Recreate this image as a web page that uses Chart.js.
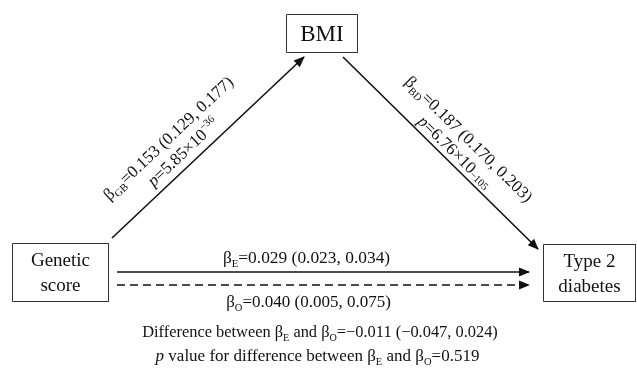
<!DOCTYPE html>
<html>
<head>
<meta charset="utf-8">
<script src="https://cdn.jsdelivr.net/npm/chart.js@4.4.1/dist/chart.umd.min.js"></script>
<style>
  html, body { margin: 0; padding: 0; background: #fff; }
</style>
</head>
<body>
<canvas id="diagram" width="637" height="373"></canvas>
<script>
// Path diagram: genetic score -> BMI -> type 2 diabetes
const nodeLines = [['BMI'], ['Genetic', 'score'], ['Type 2', 'diabetes']];

// Path estimates (GB, BD, E = expected, O = observed)
const pathNames = ['GB', 'BD', 'E', 'O'];
const betas = [0.153, 0.187, 0.029, 0.040];
const ciLow = [0.129, 0.170, 0.023, 0.005];
const ciHigh = [0.177, 0.203, 0.034, 0.075];
const pMantissa = ['5.85', '6.76'];
const pExponent = ['−36', '−105'];

// Difference between expected and observed
const diffValue = -0.011;
const diffLow = -0.047;
const diffHigh = 0.024;
const diffP = 0.519;

// Diagram layout in diagram units (same as pixels here)
const boxCorners = [[286.5, 14.5, 357.5, 52.5], [12.5, 243.5, 108.5, 301.5], [543.5, 244.5, 635.5, 301.5]];
const edgeStart = [[112, 238], [343, 57], [117, 272], [117, 285]];
const edgeEnd = [[304, 57], [538, 249], [529, 272], [529, 285]];
const edgeDashed = [false, false, false, true];

const SERIF = '"Liberation Serif", "Times New Roman", serif';

function fmt(v) {
    const s = Math.abs(v).toFixed(3);
    return v < 0 ? '−' + s : s;
}

// draw text made of runs: {t, sub, sup, low, it}
function drawRich(ctx, parts, x, y, size, align) {
    const fontFor = p => (p.it ? 'italic ' : '') + ((p.sub || p.sup || p.low) ? size * 0.62 : size) + 'px ' + SERIF;
    let w = 0;
    parts.forEach(p => { ctx.font = fontFor(p); w += ctx.measureText(p.t).width; });
    let cx = align === 'center' ? x - w / 2 : x;
    ctx.textAlign = 'left';
    ctx.textBaseline = 'alphabetic';
    parts.forEach(p => {
        ctx.font = fontFor(p);
        const dy = p.sub ? size * 0.22 : (p.sup ? -size * 0.42 : (p.low ? size * 0.08 : 0));
        ctx.fillText(p.t, cx, y + dy);
        cx += ctx.measureText(p.t).width;
    });
}

function betaLine(i) {
    return [
        { t: 'β' }, { t: pathNames[i], sub: true },
        { t: '=' + fmt(betas[i]) + ' (' + fmt(ciLow[i]) + ', ' + fmt(ciHigh[i]) + ')' }
    ];
}

function pLine(i, lowExp) {
    const exp = lowExp ? { t: pExponent[i], low: true } : { t: pExponent[i], sup: true };
    return [{ t: 'p', it: true }, { t: '=' + pMantissa[i] + '×10' }, exp];
}

// datasets: boxes then edges
const datasets = [];
boxCorners.forEach(b => {
    datasets.push({
        data: [{ x: b[0], y: b[1] }, { x: b[2], y: b[1] }, { x: b[2], y: b[3] }, { x: b[0], y: b[3] }, { x: b[0], y: b[1] }],
        showLine: true,
        borderColor: '#333',
        borderWidth: 1,
        pointRadius: 0,
        fill: false
    });
});
edgeStart.forEach((s, i) => {
    datasets.push({
        data: [{ x: s[0], y: s[1] }, { x: edgeEnd[i][0], y: edgeEnd[i][1] }],
        showLine: true,
        borderColor: '#111',
        borderWidth: 1.6,
        borderDash: edgeDashed[i] ? [8, 5] : [],
        pointRadius: 0,
        fill: false,
        arrow: true
    });
});

const diagramPlugin = {
    id: 'diagram',
    afterDatasetsDraw(chart) {
        const ctx = chart.ctx;
        const xs = chart.scales.x, ys = chart.scales.y;
        const px = (x, y) => [xs.getPixelForValue(x), ys.getPixelForValue(y)];
        ctx.save();
        ctx.fillStyle = '#111';

        // arrowheads
        chart.data.datasets.forEach((ds, di) => {
            if (!ds.arrow) return;
            const pts = chart.getDatasetMeta(di).data;
            const a = pts[pts.length - 2], b = pts[pts.length - 1];
            const ang = Math.atan2(b.y - a.y, b.x - a.x);
            ctx.save();
            ctx.translate(b.x, b.y);
            ctx.rotate(ang);
            ctx.beginPath();
            ctx.moveTo(1, 0);
            ctx.lineTo(-10, -4.5);
            ctx.lineTo(-10, 4.5);
            ctx.closePath();
            ctx.fill();
            ctx.restore();
        });

        // node labels
        const nodeSizes = [23, 19, 19];
        boxCorners.forEach((b, i) => {
            const [cx, cy] = px((b[0] + b[2]) / 2, (b[1] + b[3]) / 2);
            const n = nodeLines[i].length;
            const lh = nodeSizes[i] * 1.3;
            nodeLines[i].forEach((t, k) => {
                drawRich(ctx, [{ t: t }], cx, cy + (k - (n - 1) / 2) * lh + nodeSizes[i] * 0.33, nodeSizes[i], 'center');
            });
        });

        // rotated labels along the BMI paths
        const rotLabels = [
            { edge: 0, at: [168, 138], parts: betaLine(0) },
            { edge: 0, at: [183, 152], parts: pLine(0, false) },
            { edge: 1, at: [469, 139], parts: betaLine(1) },
            { edge: 1, at: [455, 152], parts: pLine(1, true) }
        ];
        rotLabels.forEach(l => {
            const [sx, sy] = px(edgeStart[l.edge][0], edgeStart[l.edge][1]);
            const [ex, ey] = px(edgeEnd[l.edge][0], edgeEnd[l.edge][1]);
            const [cx, cy] = px(l.at[0], l.at[1]);
            ctx.save();
            ctx.translate(cx, cy);
            ctx.rotate(Math.atan2(ey - sy, ex - sx));
            drawRich(ctx, l.parts, 0, 17 * 0.33, 17, 'center');
            ctx.restore();
        });

        // horizontal labels
        let [x, y] = px(306.5, 263);
        drawRich(ctx, betaLine(2), x, y, 17.4, 'center');
        [x, y] = px(308.5, 307);
        drawRich(ctx, betaLine(3), x, y, 17, 'center');
        [x, y] = px(320, 337);
        drawRich(ctx, [
            { t: 'Difference between β' }, { t: 'E', sub: true }, { t: ' and β' }, { t: 'O', sub: true },
            { t: '=' + fmt(diffValue) + ' (' + fmt(diffLow) + ', ' + fmt(diffHigh) + ')' }
        ], x, y, 16.4, 'center');
        [x, y] = px(317.5, 361);
        drawRich(ctx, [
            { t: 'p', it: true }, { t: ' value for difference between β' }, { t: 'E', sub: true },
            { t: ' and β' }, { t: 'O', sub: true }, { t: '=' + diffP.toFixed(3) }
        ], x, y, 17, 'center');

        ctx.restore();
    }
};

new Chart(document.getElementById('diagram'), {
    type: 'scatter',
    data: { datasets: datasets },
    options: {
        responsive: false,
        animation: false,
        layout: { padding: 0 },
        scales: {
            x: { type: 'linear', min: 0, max: 637, display: false },
            y: { type: 'linear', min: 0, max: 373, reverse: true, display: false }
        },
        plugins: {
            legend: { display: false },
            tooltip: { enabled: false }
        },
        elements: { line: { tension: 0 } }
    },
    plugins: [diagramPlugin]
});
</script>
</body>
</html>
